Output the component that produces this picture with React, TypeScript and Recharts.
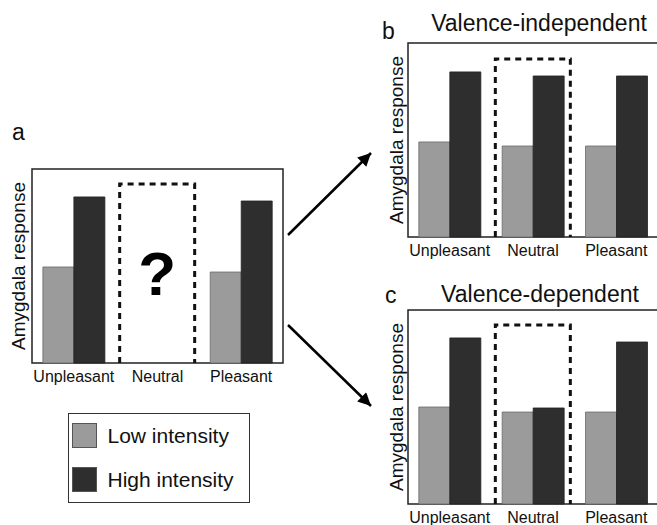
import React from 'react';
import { BarChart, Bar, XAxis, YAxis, ReferenceArea, Legend, LabelList } from 'recharts';

const categories = ['Unpleasant', 'Neutral', 'Pleasant'];
const seriesNames = ['Low intensity', 'High intensity'];
const seriesColors = ['#9b9b9b', '#2e2e2e'];

const aLow = [49.5, null, 46.9];
const aHigh = [85.6, null, 83.5];
const aFrame = [null, 92.3, null];
const aMark = ['', '?', ''];

const bLow = [49.0, 46.9, 46.9];
const bHigh = [85.1, 83.0, 83.0];
const bFrame = [null, 91.8, null];

const cLow = [50.0, 47.4, 47.4];
const cHigh = [85.6, 49.5, 83.5];
const cFrame = [null, 92.3, null];

const yDomain = [0, 100];
const titles = ['Valence-independent', 'Valence-dependent'];
const panelLetters = ['a', 'b', 'c'];
const yLabel = 'Amygdala response';

const FONT = '"Liberation Sans", Arial, Helvetica, sans-serif';

const build = (low: any[], high: any[], frame: any[], mark?: string[]) =>
  categories.map((cat, i) => ({ cat, low: low[i], high: high[i], frame: frame[i], mark: mark ? mark[i] : '' }));

const dataA = build(aLow, aHigh, aFrame, aMark);
const dataB = build(bLow, bHigh, bFrame);
const dataC = build(cLow, cHigh, cFrame);

const FrameShape = (props: any) => {
  const { x, y, width, height, payload } = props;
  if (!payload || payload.frame == null || !height || height <= 0 || isNaN(height)) return null;
  return (
    <path
      d={`M${x},${y + height} L${x},${y} L${x + width},${y} L${x + width},${y + height}`}
      fill="none"
      stroke="#111"
      strokeWidth={3}
      strokeDasharray="6 5"
    />
  );
};

const LegendBox = () => (
  <div
    style={{
      boxSizing: 'border-box',
      width: 182,
      height: 90,
      border: '1.5px solid #333',
      position: 'relative',
      background: '#fff',
      fontFamily: FONT,
    }}
  >
    {seriesNames.map((n, i) => (
      <div
        key={n}
        style={{ position: 'absolute', left: 2.5, top: 8.5 + i * 44, display: 'flex', alignItems: 'center', height: 25 }}
      >
        <div
          style={{ width: 25, height: 25, background: seriesColors[i], border: '1px solid #555', boxSizing: 'border-box' }}
        />
        <span style={{ marginLeft: 11, fontSize: 21, color: '#111', lineHeight: '25px', whiteSpace: 'nowrap' }}>{n}</span>
      </div>
    ))}
  </div>
);

function Panel(props: any) {
  const { data, width, height, margin, yAxisWidth, xAxisHeight, showLegend, withMark } = props;
  return (
    <BarChart width={width} height={height} data={data} margin={margin} barCategoryGap="13%" barGap={0}>
      <XAxis
        dataKey="cat"
        axisLine={false}
        tickLine={false}
        interval={0}
        height={xAxisHeight}
        tick={{ fontSize: 16, fill: '#111', fontFamily: FONT }}
      />
      <XAxis xAxisId="frame" dataKey="cat" hide />
      <YAxis
        domain={yDomain}
        tick={false}
        axisLine={false}
        tickLine={false}
        width={yAxisWidth}
        label={{ value: yLabel, angle: -90, position: 'center', fontSize: 19, fill: '#111', fontFamily: FONT }}
      />
      <ReferenceArea y1={0} y2={100} fill="none" fillOpacity={0} stroke="#222" strokeWidth={1.5} ifOverflow="visible" />
      <Bar dataKey="low" name={seriesNames[0]} fill={seriesColors[0]} stroke="#6a6a6a" strokeWidth={0.8} isAnimationActive={false} />
      <Bar dataKey="high" name={seriesNames[1]} fill={seriesColors[1]} stroke="#222" strokeWidth={0.8} isAnimationActive={false} />
      <Bar dataKey="frame" xAxisId="frame" barSize={75} shape={FrameShape} legendType="none" isAnimationActive={false}>
        {withMark ? (
          <LabelList dataKey="mark" position="center" fontSize={62} fontWeight="bold" fill="#000" fontFamily={FONT} />
        ) : null}
      </Bar>
      {showLegend ? (
        <Legend
          layout="horizontal"
          verticalAlign="middle"
          align="center"
          wrapperStyle={{ left: 68, top: 413, width: 182, height: 90 }}
          content={() => <LegendBox />}
        />
      ) : null}
    </BarChart>
  );
}

export default function App() {
  return (
    <div
      style={{
        position: 'absolute',
        left: 0,
        top: 0,
        width: 657,
        height: 525,
        overflow: 'hidden',
        background: '#fff',
        fontFamily: FONT,
      }}
    >
      <div style={{ position: 'absolute', left: 0, top: 0 }}>
        <Panel
          data={dataA}
          width={300}
          height={525}
          margin={{ top: 169, right: 17, bottom: 132, left: 4 }}
          yAxisWidth={28}
          xAxisHeight={30}
          showLegend
          withMark
        />
      </div>
      <div style={{ position: 'absolute', left: 360, top: 0 }}>
        <Panel
          data={dataB}
          width={310}
          height={270}
          margin={{ top: 43, right: 12, bottom: 3, left: 24 }}
          yAxisWidth={24}
          xAxisHeight={30}
        />
      </div>
      <div style={{ position: 'absolute', left: 360, top: 270 }}>
        <Panel
          data={dataC}
          width={310}
          height={255}
          margin={{ top: 40, right: 12, bottom: 0, left: 24 }}
          yAxisWidth={24}
          xAxisHeight={21}
        />
      </div>
      <svg width={657} height={525} style={{ position: 'absolute', left: 0, top: 0, pointerEvents: 'none' }}>
        <defs>
          <marker
            id="ah"
            viewBox="0 0 10 10"
            refX="10"
            refY="5"
            markerWidth="16"
            markerHeight="13"
            markerUnits="userSpaceOnUse"
            orient="auto"
          >
            <path d="M0,0 L10,5 L0,10 z" fill="#000" />
          </marker>
        </defs>
        <line x1={288} y1={235} x2={371} y2={153} stroke="#000" strokeWidth={2.5} markerEnd="url(#ah)" />
        <line x1={288} y1={325} x2={371} y2={406} stroke="#000" strokeWidth={2.5} markerEnd="url(#ah)" />
        <g fontFamily={FONT} fill="#111" fontSize={23}>
          <text x={12} y={140}>{panelLetters[0]}</text>
          <text x={382} y={39}>{panelLetters[1]}</text>
          <text x={385} y={303}>{panelLetters[2]}</text>
          <text x={539} y={31} textAnchor="middle">{titles[0]}</text>
          <text x={540} y={302} textAnchor="middle">{titles[1]}</text>
        </g>
      </svg>
    </div>
  );
}
